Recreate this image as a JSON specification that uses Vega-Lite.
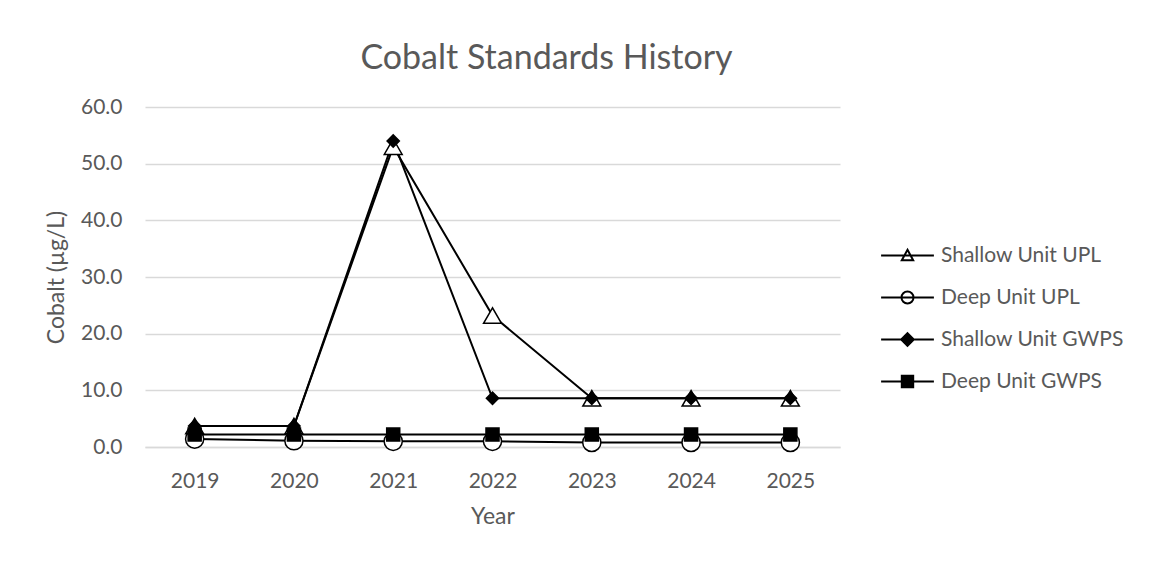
{
  "$schema": "https://vega.github.io/schema/vega-lite/v6.json",
  "width": 695,
  "height": 340,
  "autosize": {"type": "none"},
  "padding": {"left": 145, "top": 107, "right": 310, "bottom": 114},
  "background": "white",
  "title": {"text": "Cobalt Standards History", "font": "Lato", "fontSize": 34, "fontWeight": "normal", "color": "#595959", "anchor": "middle", "dx": 54, "offset": 20},
  "config": {
    "view": {"stroke": null},
    "axis": {"labelFont": "Lato", "labelFontSize": 21, "labelColor": "#595959", "titleFont": "Lato", "titleFontSize": 23, "titleColor": "#595959", "titleFontWeight": "normal", "gridColor": "#d9d9d9", "gridWidth": 1.5, "domainColor": "#d9d9d9", "domainWidth": 1.5, "ticks": false, "tickSize": 0},
    "legend": {"labelFont": "Lato", "labelFontSize": 21, "labelColor": "#595959", "labelLimit": 300}
  },
  "data": {"values": [
    {"year": "2019", "series": "Shallow Unit UPL", "value": 3.7},
    {"year": "2020", "series": "Shallow Unit UPL", "value": 3.7},
    {"year": "2021", "series": "Shallow Unit UPL", "value": 53.0},
    {"year": "2022", "series": "Shallow Unit UPL", "value": 23.2},
    {"year": "2023", "series": "Shallow Unit UPL", "value": 8.6},
    {"year": "2024", "series": "Shallow Unit UPL", "value": 8.6},
    {"year": "2025", "series": "Shallow Unit UPL", "value": 8.6},
    {"year": "2019", "series": "Deep Unit UPL", "value": 1.4},
    {"year": "2020", "series": "Deep Unit UPL", "value": 1.1},
    {"year": "2021", "series": "Deep Unit UPL", "value": 1.0},
    {"year": "2022", "series": "Deep Unit UPL", "value": 1.0},
    {"year": "2023", "series": "Deep Unit UPL", "value": 0.8},
    {"year": "2024", "series": "Deep Unit UPL", "value": 0.8},
    {"year": "2025", "series": "Deep Unit UPL", "value": 0.8},
    {"year": "2019", "series": "Shallow Unit GWPS", "value": 3.7},
    {"year": "2020", "series": "Shallow Unit GWPS", "value": 3.7},
    {"year": "2021", "series": "Shallow Unit GWPS", "value": 54.0},
    {"year": "2022", "series": "Shallow Unit GWPS", "value": 8.6},
    {"year": "2023", "series": "Shallow Unit GWPS", "value": 8.6},
    {"year": "2024", "series": "Shallow Unit GWPS", "value": 8.6},
    {"year": "2025", "series": "Shallow Unit GWPS", "value": 8.6},
    {"year": "2019", "series": "Deep Unit GWPS", "value": 2.2},
    {"year": "2020", "series": "Deep Unit GWPS", "value": 2.2},
    {"year": "2021", "series": "Deep Unit GWPS", "value": 2.2},
    {"year": "2022", "series": "Deep Unit GWPS", "value": 2.2},
    {"year": "2023", "series": "Deep Unit GWPS", "value": 2.2},
    {"year": "2024", "series": "Deep Unit GWPS", "value": 2.2},
    {"year": "2025", "series": "Deep Unit GWPS", "value": 2.2}
  ]},
  "encoding": {
    "x": {"field": "year", "type": "ordinal", "scale": {"type": "point", "padding": 0.5}, "axis": {"title": "Year", "labelAngle": 0, "labelPadding": 23, "titlePadding": 14, "grid": false, "domain": true}},
    "y": {"field": "value", "type": "quantitative", "scale": {"domain": [0, 60], "nice": false}, "axis": {"title": "Cobalt (µg/L)", "values": [0, 10, 20, 30, 40, 50, 60], "format": ".1f", "labelPadding": 23, "titlePadding": 12, "domain": false, "grid": true}}
  },
  "layer": [
    {
      "mark": {"type": "line", "color": "black", "strokeWidth": 2},
      "encoding": {"detail": {"field": "series"}}
    },
    {
      "mark": {"type": "point", "filled": true, "stroke": "black", "strokeWidth": 1.5, "opacity": 1},
      "encoding": {
        "shape": {"condition": [
          {"test": "datum.series === 'Shallow Unit UPL'", "value": "triangle-up"},
          {"test": "datum.series === 'Deep Unit UPL'", "value": "circle"},
          {"test": "datum.series === 'Shallow Unit GWPS'", "value": "diamond"}
        ], "value": "square"},
        "fill": {"condition": {"test": "datum.series === 'Shallow Unit UPL' || datum.series === 'Deep Unit UPL'", "value": "white"}, "value": "black"},
        "size": {"condition": [
          {"test": "datum.series === 'Shallow Unit UPL'", "value": 320},
          {"test": "datum.series === 'Deep Unit UPL'", "value": 330},
          {"test": "datum.series === 'Shallow Unit GWPS'", "value": 150}
        ], "value": 170}
      }
    },
    {
      "transform": [{"filter": "false"}],
      "mark": {"type": "point", "filled": false, "color": "black", "strokeWidth": 2, "opacity": 1},
      "encoding": {
        "shape": {"field": "series", "scale": {"domain": ["Shallow Unit UPL", "Deep Unit UPL", "Shallow Unit GWPS", "Deep Unit GWPS"], "range": [
          "M-4.4,0H4.4M0,-0.95L0.95,0.8L-0.95,0.8Z",
          "M-4.4,0H4.4M1,0A1,1,0,1,1,-1,0A1,1,0,1,1,1,0Z",
          "M-4.4,0H4.4M0,-1.05L1.05,0L0,1.05L-1.05,0ZM0,-0.75L0.75,0L0,0.75L-0.75,0ZM0,-0.45L0.45,0L0,0.45L-0.45,0ZM0,-0.15L0.15,0L0,0.15L-0.15,0Z",
          "M-4.4,0H4.4M-0.95,-0.95H0.95V0.95H-0.95ZM-0.65,-0.65H0.65V0.65H-0.65ZM-0.35,-0.35H0.35V0.35H-0.35ZM-0.1,-0.1H0.1V0.1H-0.1Z"
        ]},
          "legend": {"title": null, "orient": "none", "legendX": 752, "legendY": 138, "symbolSize": 144, "symbolStrokeWidth": 2, "symbolStrokeColor": "black", "symbolFillColor": "transparent", "labelOffset": 23, "rowPadding": 20, "padding": 0}}
      }
    }
  ]
}
